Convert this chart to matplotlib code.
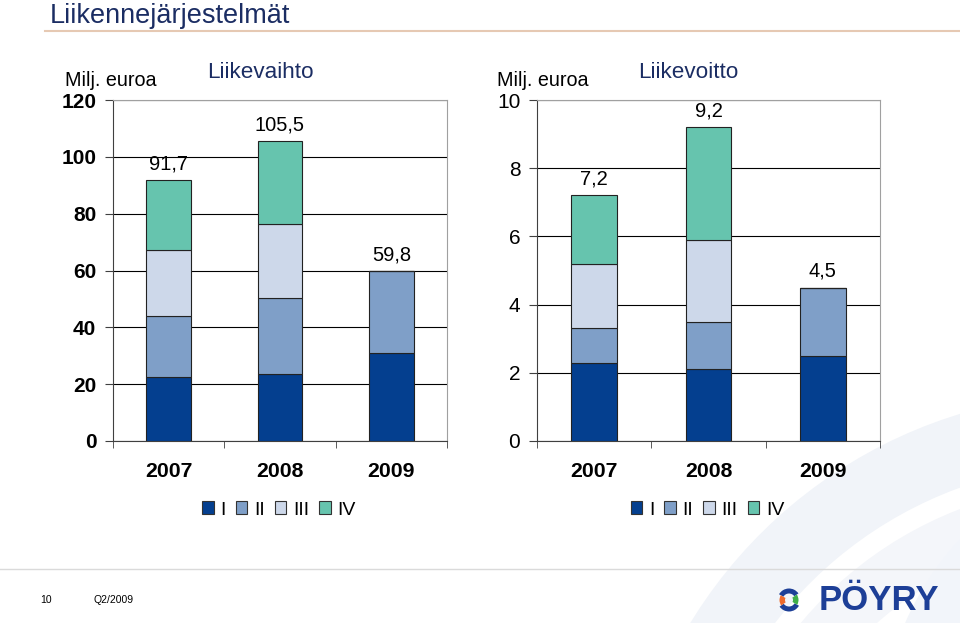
import matplotlib
matplotlib.use("Agg")
import matplotlib.pyplot as plt
from matplotlib.patches import Patch, Wedge

plt.rcParams["font.family"] = ["Liberation Sans", "DejaVu Sans"]

years = ["2007", "2008", "2009"]
quarters = ["I", "II", "III", "IV"]

# Liikevaihto, Milj. euroa (per quarter)
sales_q1 = [22.4, 23.7, 30.8]
sales_q2 = [21.7, 26.5, 29.0]
sales_q3 = [23.1, 26.3, 0]
sales_q4 = [24.5, 29.0, 0]
sales_totals = ["91,7", "105,5", "59,8"]

# Liikevoitto, Milj. euroa (per quarter)
ebit_q1 = [2.3, 2.1, 2.5]
ebit_q2 = [1.0, 1.4, 2.0]
ebit_q3 = [1.9, 2.4, 0]
ebit_q4 = [2.0, 3.3, 0]
ebit_totals = ["7,2", "9,2", "4,5"]

colors = ["#043f8f", "#7f9fc8", "#cdd8ea", "#66c4ae"]
navy = "#1b2d63"

W, H = 960, 623
fig = plt.figure(figsize=(W / 100, H / 100), dpi=100)
fig.patch.set_facecolor("white")

# background / decoration layer in pixel coordinates
bg = fig.add_axes([0, 0, 1, 1])
bg.set_xlim(0, W)
bg.set_ylim(0, H)
bg.axis("off")
bg.add_patch(Wedge((1100, -250), 480, 95, 165, width=70, color="#f1f4f9", lw=0))
bg.add_patch(Wedge((1100, -250), 390, 95, 170, width=55, color="#f4f6fa", lw=0))
bg.add_patch(Wedge((1180, -120), 300, 100, 175, width=70, color="#f2f5fa", lw=0))
bg.plot([45, W], [H - 31, H - 31], color="#e6c9b3", lw=1.5)
bg.plot([0, W], [H - 569, H - 569], color="#dadada", lw=1)
bg.text(50, H - 23, "Liikennejärjestelmät", fontsize=19.5, color=navy,
        va="baseline", ha="left")
bg.text(40, H - 600, "10", fontsize=7.5, va="center")
bg.text(93, H - 600, "Q2/2009", fontsize=7.5, va="center")

# logo
cx, cy = 789, H - 600
bg.add_patch(Wedge((cx, cy), 11.5, 35, 150, width=5, color="#1d3f97", lw=0))
bg.add_patch(Wedge((cx, cy), 11.5, 215, 330, width=5, color="#1d3f97", lw=0))
bg.add_patch(Wedge((cx, cy), 9.5, 150, 215, width=5.5, color="#ee6a2c", lw=0))
bg.add_patch(Wedge((cx, cy), 9.5, 330, 395, width=5.5, color="#3fae49", lw=0))
bg.text(879, H - 601, "PÖYRY", fontsize=25, fontweight="bold", color="#1d3f97",
        ha="center", va="center")


def draw_chart(rect, parts, totals, ymax, step, title, bold_ticks, label_x):
    ax = fig.add_axes(rect)
    ax.set_facecolor("none")
    x = range(len(years))
    bottom = [0] * len(years)
    for vals, c in zip(parts, colors):
        ax.bar(x, vals, 0.4, bottom=bottom, color=c, edgecolor="#222222",
               linewidth=0.8, zorder=3)
        bottom = [b + v for b, v in zip(bottom, vals)]
    for i, t in enumerate(totals):
        ax.annotate(t, (i, bottom[i]), xytext=(0, 5), textcoords="offset points",
                    ha="center", va="bottom", fontsize=14.5)
    ax.set_xlim(-0.5, 2.5)
    ax.set_ylim(0, ymax)
    ax.set_yticks(range(0, ymax + 1, step))
    ax.yaxis.grid(True, color="black", lw=0.8, zorder=0)
    ax.set_xticks([-0.5, 0.5, 1.5, 2.5], minor=True)
    ax.set_xticks(list(x))
    ax.set_xticklabels(years, fontsize=15.3, fontweight="bold")
    ax.tick_params(axis="x", which="major", length=0, pad=15)
    ax.tick_params(axis="x", which="minor", length=5, color="#404040")
    ax.tick_params(axis="y", length=6, color="#404040", labelsize=15, pad=6)
    if bold_ticks:
        for lbl in ax.get_yticklabels():
            lbl.set_fontweight("bold")
    for s in ["left", "bottom"]:
        ax.spines[s].set_color("#404040")
    for s in ["top", "right"]:
        ax.spines[s].set_color("#a0a0a0")
    fig.text(label_x, 1 - 80 / H, "Milj. euroa", fontsize=14.2, ha="left", va="center")
    fig.text(rect[0] + rect[2] * 0.44, 1 - 73 / H, title, fontsize=16.2, color=navy,
             ha="center", va="center")
    handles = [Patch(facecolor=c, edgecolor="#333333", lw=0.8) for c in colors]
    fig.legend(handles, quarters, loc="center",
               bbox_to_anchor=(rect[0] + rect[2] * 0.5 - 0.001, 1 - 510 / H),
               ncol=4, frameon=False, fontsize=14, handlelength=0.6,
               handleheight=0.6, handletextpad=0.35, columnspacing=0.5)
    return ax


bottom_frac = (H - 441) / H
height_frac = 341 / H
draw_chart([113 / W, bottom_frac, 334 / W, height_frac],
           [sales_q1, sales_q2, sales_q3, sales_q4], sales_totals,
           120, 20, "Liikevaihto", True, 65 / W)
draw_chart([537 / W, bottom_frac, 343 / W, height_frac],
           [ebit_q1, ebit_q2, ebit_q3, ebit_q4], ebit_totals,
           10, 2, "Liikevoitto", False, 497 / W)

fig.savefig("out.png", dpi=100)
